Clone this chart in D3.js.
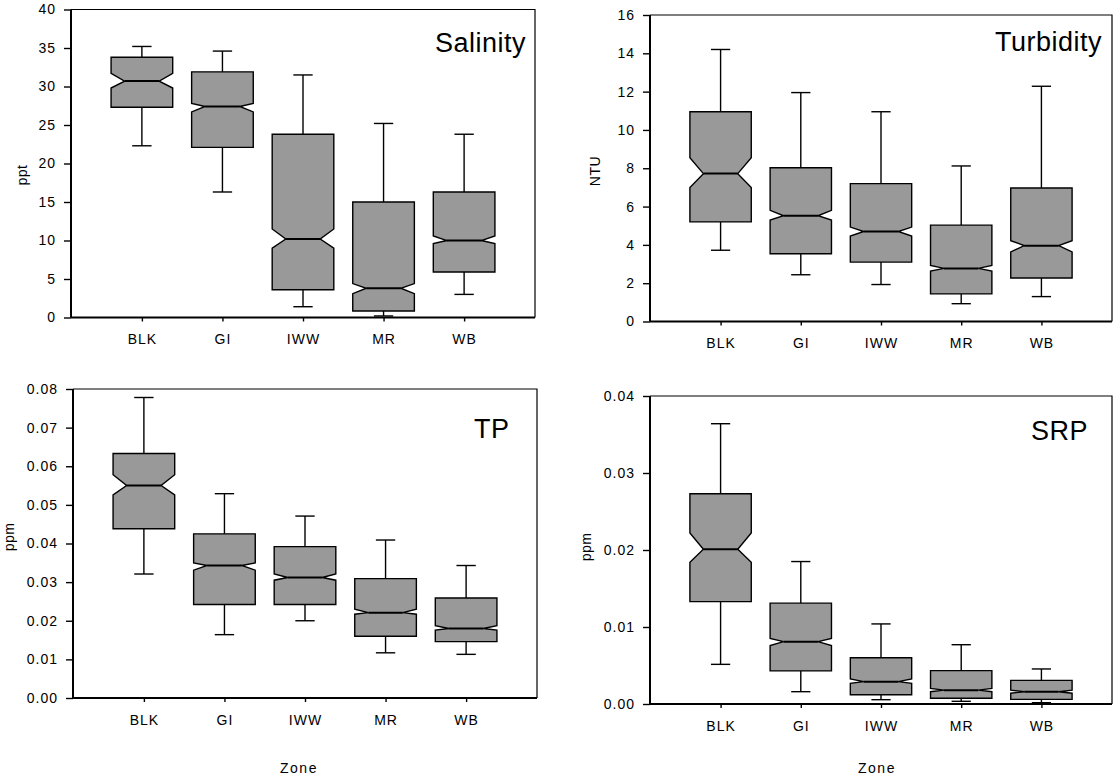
<!DOCTYPE html>
<html>
<head>
<meta charset="utf-8">
<script src="https://cdn.jsdelivr.net/npm/d3@7"></script>
<style>
  html, body { margin: 0; padding: 0; background: #fff; }
  svg { display: block; }
  text { font-family: "Liberation Sans", Arial, sans-serif; fill: #000; }
</style>
</head>
<body>
<svg id="chart" width="1114" height="782"></svg>
<script>
// ---- Data ----
const zones = ["BLK", "GI", "IWW", "MR", "WB"];
// each row: [lowWhisker, Q1, notchLow, median, notchHigh, Q3, highWhisker]
const salinity = [
  [22.3, 27.3, 29.8, 30.7, 31.7, 33.8, 35.2],
  [16.3, 22.1, 26.7, 27.4, 27.8, 31.9, 34.6],
  [1.4, 3.6, 9.0, 10.2, 11.5, 23.8, 31.5],
  [0.2, 0.85, 3.1, 3.8, 4.4, 15.0, 25.2],
  [3.0, 5.9, 9.6, 10.0, 10.6, 16.3, 23.8]
];
const turbidity = [
  [3.72, 5.2, 6.99, 7.72, 8.55, 10.95, 14.2],
  [2.44, 3.54, 5.3, 5.52, 5.8, 8.03, 11.95],
  [1.93, 3.1, 4.46, 4.7, 4.93, 7.2, 10.95],
  [0.93, 1.44, 2.63, 2.77, 2.93, 5.03, 8.12],
  [1.3, 2.27, 3.63, 3.96, 4.22, 6.97, 12.28]
];
const tp = [
  [0.0321, 0.0438, 0.0526, 0.0550, 0.0578, 0.0633, 0.0778],
  [0.0164, 0.0242, 0.0331, 0.0343, 0.0350, 0.0425, 0.0529],
  [0.0200, 0.0242, 0.0305, 0.0312, 0.0321, 0.0392, 0.0471],
  [0.0117, 0.0160, 0.0217, 0.0221, 0.0230, 0.0309, 0.0409],
  [0.0113, 0.0146, 0.0176, 0.0180, 0.0187, 0.0259, 0.0343]
];
const srp = [
  [0.00515, 0.0133, 0.0184, 0.0201, 0.0222, 0.0273, 0.0364],
  [0.0016, 0.0043, 0.0076, 0.0081, 0.0085, 0.0131, 0.0185],
  [0.00056, 0.00121, 0.00268, 0.0029, 0.00325, 0.0060, 0.0104],
  [0.00035, 0.00074, 0.0016, 0.0018, 0.00203, 0.00433, 0.0077],
  [0.00017, 0.0006, 0.0014, 0.0016, 0.0018, 0.00307, 0.00455]
];
const salinityTicks = [0, 5, 10, 15, 20, 25, 30, 35, 40];
const turbidityTicks = [0, 2, 4, 6, 8, 10, 12, 14, 16];
const tpTicks = [0, 0.01, 0.02, 0.03, 0.04, 0.05, 0.06, 0.07, 0.08];
const srpTicks = [0, 0.01, 0.02, 0.03, 0.04];

// ---- Layout ----
const panels = [
  { data: salinity, ticks: salinityTicks, fmt: d3.format("d"), title: "Salinity", unit: "ppt",
    x0: 71, x1: 535, y0: 9.5, y1: 317.5, titleX: 435, titleY: 52, unitX: 27, unitY: 175 },
  { data: turbidity, ticks: turbidityTicks, fmt: d3.format("d"), title: "Turbidity", unit: "NTU",
    x0: 650, x1: 1112, y0: 15, y1: 321.5, titleX: 995, titleY: 51, unitX: 600, unitY: 171 },
  { data: tp, ticks: tpTicks, fmt: d3.format(".2f"), title: "TP", unit: "ppm",
    x0: 73, x1: 537, y0: 389, y1: 698, titleX: 474, titleY: 438, unitX: 14, unitY: 537,
    zoneX: 299, zoneY: 773 },
  { data: srp, ticks: srpTicks, fmt: d3.format(".2f"), title: "SRP", unit: "ppm",
    x0: 650, x1: 1112, y0: 396, y1: 704, titleX: 1031, titleY: 440, unitX: 591, unitY: 547,
    zoneX: 877, zoneY: 773 }
];

const svg = d3.select("#chart");

panels.forEach(p => {
  const g = svg.append("g");
  const x = d3.scalePoint().domain(zones).range([p.x0, p.x1]).padding(0.88);
  const ticks = p.ticks;
  const y = d3.scaleLinear().domain([ticks[0], ticks[ticks.length - 1]]).range([p.y1, p.y0]);
  const step = x.step();
  const bw = step * 0.765;
  const inset = bw * 0.22;
  const capW = step * 0.24;

  // frame top & right (thin)
  g.append("path")
    .attr("d", `M${p.x0},${p.y0}H${p.x1}V${p.y1}`)
    .attr("fill", "none").attr("stroke", "#000").attr("stroke-width", 1.2);

  // boxes
  p.data.forEach((s, i) => {
    const cx = x(zones[i]);
    const [lo, q1, nlo, med, nhi, q3, hi] = s;
    const xl = cx - bw / 2, xr = cx + bw / 2;
    const bg = g.append("g");
    // whiskers
    bg.append("line").attr("x1", cx).attr("x2", cx).attr("y1", y(q3)).attr("y2", y(hi))
      .attr("stroke", "#000").attr("stroke-width", 1.4);
    bg.append("line").attr("x1", cx).attr("x2", cx).attr("y1", y(q1)).attr("y2", y(lo))
      .attr("stroke", "#000").attr("stroke-width", 1.4);
    bg.append("line").attr("x1", cx - capW / 2).attr("x2", cx + capW / 2).attr("y1", y(hi)).attr("y2", y(hi))
      .attr("stroke", "#000").attr("stroke-width", 1.4);
    bg.append("line").attr("x1", cx - capW / 2).attr("x2", cx + capW / 2).attr("y1", y(lo)).attr("y2", y(lo))
      .attr("stroke", "#000").attr("stroke-width", 1.4);
    // notched box
    const path = d3.path();
    path.moveTo(xl, y(q3));
    path.lineTo(xr, y(q3));
    path.lineTo(xr, y(nhi));
    path.lineTo(xr - inset, y(med));
    path.lineTo(xr, y(nlo));
    path.lineTo(xr, y(q1));
    path.lineTo(xl, y(q1));
    path.lineTo(xl, y(nlo));
    path.lineTo(xl + inset, y(med));
    path.lineTo(xl, y(nhi));
    path.closePath();
    bg.append("path").attr("d", path.toString())
      .attr("fill", "#999999").attr("stroke", "#000").attr("stroke-width", 1.4)
      .attr("stroke-linejoin", "miter");
    // median
    bg.append("line").attr("x1", xl + inset).attr("x2", xr - inset).attr("y1", y(med)).attr("y2", y(med))
      .attr("stroke", "#000").attr("stroke-width", 2);
  });

  // y axis
  const yAxis = d3.axisLeft(y).tickValues(ticks).tickFormat(p.fmt).tickSize(7).tickPadding(8);
  const ya = g.append("g").attr("transform", `translate(${p.x0},0)`).call(yAxis);
  ya.select(".domain").attr("d", `M0,${p.y0}V${p.y1}`).attr("stroke-width", 2);
  ya.selectAll(".tick line").attr("stroke-width", 1.4);
  ya.selectAll(".tick text").attr("font-size", 14).style("letter-spacing", "1px")
    .attr("font-family", "Liberation Sans, Arial, sans-serif").attr("fill", "#000");

  // x axis
  const xAxis = d3.axisBottom(x).tickSize(4).tickPadding(13);
  const xa = g.append("g").attr("transform", `translate(0,${p.y1})`).call(xAxis);
  xa.select(".domain").attr("d", `M${p.x0},0H${p.x1}`).attr("stroke-width", 2);
  xa.selectAll(".tick line").attr("stroke-width", 1.4);
  xa.selectAll(".tick text").attr("font-size", 14).style("letter-spacing", "1px")
    .attr("font-family", "Liberation Sans, Arial, sans-serif").attr("fill", "#000");

  // title
  g.append("text").attr("x", p.titleX).attr("y", p.titleY)
    .attr("font-size", 27).style("letter-spacing", "0.5px").text(p.title);

  // unit label
  g.append("text").attr("transform", `translate(${p.unitX},${p.unitY}) rotate(-90)`)
    .attr("text-anchor", "middle").attr("font-size", 14).style("letter-spacing", "0.5px").text(p.unit);

  if (p.zoneX !== undefined) {
    g.append("text").attr("x", p.zoneX).attr("y", p.zoneY)
      .attr("text-anchor", "middle").attr("font-size", 14).style("letter-spacing", "1.5px").text("Zone");
  }
});
</script>
</body>
</html>
